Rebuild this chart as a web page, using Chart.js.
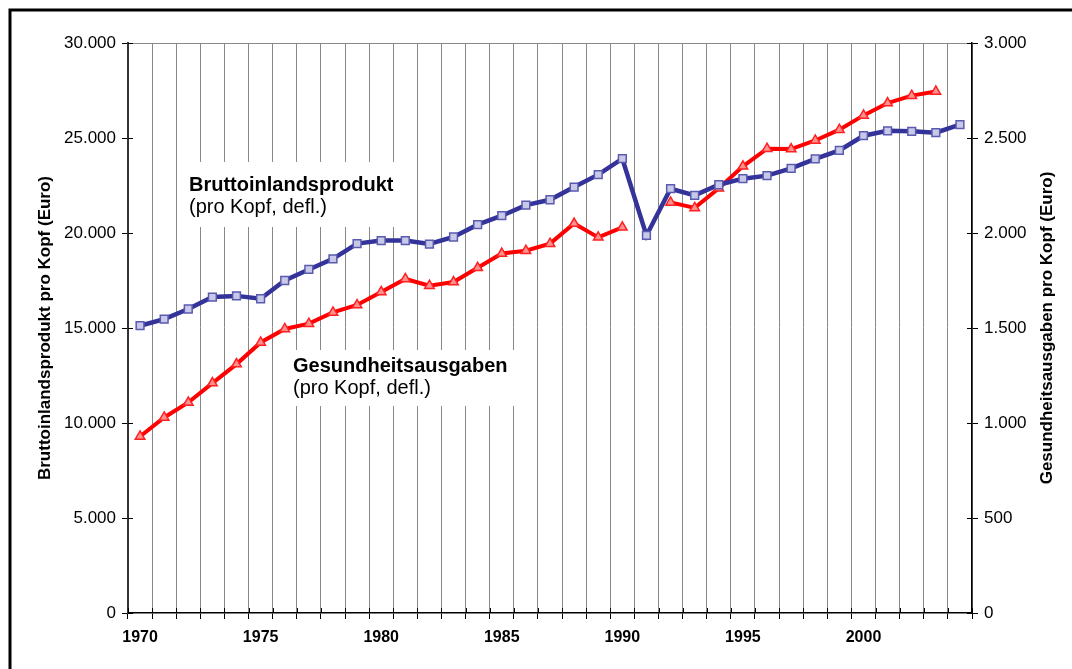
<!DOCTYPE html>
<html>
  <head>
    <title>BIP und Gesundheitsausgaben</title>
    <script src="https://cdn.jsdelivr.net/npm/chart.js"></script>
    <style>
      body { margin: 0; background: #fff; }
      #wrap { width: 1072px; height: 669px; position: relative; }
    </style>
  </head>
  <body>
    <div id="wrap"><canvas id="chart"></canvas></div>

    <script>
      // Jahre 1970-2004
      const years = [
        1970, 1971, 1972, 1973, 1974, 1975, 1976, 1977, 1978, 1979,
        1980, 1981, 1982, 1983, 1984, 1985, 1986, 1987, 1988, 1989,
        1990, 1991, 1992, 1993, 1994, 1995, 1996, 1997, 1998, 1999,
        2000, 2001, 2002, 2003, 2004
      ]

      // Bruttoinlandsprodukt pro Kopf, deflationiert (linke Achse)
      const bip = [
        15120, 15470, 16000, 16630, 16690, 16540, 17500, 18080, 18640, 19440,
        19600, 19600, 19420, 19790, 20440, 20910, 21470, 21750, 22420, 23070,
        23910, 19870, 22330, 21980, 22540, 22860, 23020, 23400, 23900, 24350,
        25120, 25380, 25350, 25280, 25700
      ]

      // Gesundheitsausgaben pro Kopf, deflationiert (rechte Achse)
      const gesundheit = [
        929, 1029, 1108, 1210, 1310, 1424, 1495, 1523, 1582, 1621,
        1690, 1758, 1723, 1742, 1817, 1892, 1907, 1944, 2050, 1977,
        2030, null, 2161, 2132, 2235, 2351, 2444, 2442, 2487, 2544,
        2619, 2684, 2723, 2745, null
      ]

      const leftTicks = [0, 5000, 10000, 15000, 20000, 25000, 30000]
      const rightTicks = [0, 500, 1000, 1500, 2000, 2500, 3000]
      const rightTitle = 'Gesundheitsausgaben pro Kopf (Euro)'

      const fontFamily = '"Liberation Sans", Arial, sans-serif'
      const gridGray = '#888888'

      const fmt = v => String(v).replace(/\B(?=(\d{3})+(?!\d))/g, '.')

      const notes = [
        { box: [186, 162, 214, 65], x: 189, title: 'Bruttoinlandsprodukt', y1: 191, sub: '(pro Kopf, defl.)', y2: 213 },
        { box: [287, 350, 229, 56], x: 293, title: 'Gesundheitsausgaben', y1: 372, sub: '(pro Kopf, defl.)', y2: 394 }
      ]

      const extras = {
        id: 'extras',
        beforeDatasetsDraw(chart) {
          const ctx = chart.ctx
          ctx.save()
          notes.forEach(n => {
            ctx.fillStyle = '#fff'
            ctx.fillRect(n.box[0], n.box[1], n.box[2], n.box[3])
            ctx.fillStyle = '#000'
            ctx.textAlign = 'left'
            ctx.textBaseline = 'alphabetic'
            ctx.font = 'bold 20px ' + fontFamily
            ctx.fillText(n.title, n.x, n.y1)
            ctx.font = '20px ' + fontFamily
            ctx.fillText(n.sub, n.x, n.y2)
          })
          ctx.restore()
        },
        afterDraw(chart) {
          const ctx = chart.ctx
          const { x, y, y1 } = chart.scales
          ctx.save()
          ctx.strokeStyle = '#000'
          ctx.lineWidth = 1
          // inward halves of the crossing tick marks
          ctx.beginPath()
          leftTicks.forEach(v => {
            const py = Math.round(y.getPixelForValue(v)) + 0.5
            ctx.moveTo(y.right, py)
            ctx.lineTo(y.right + 5, py)
          })
          rightTicks.forEach(v => {
            const py = Math.round(y1.getPixelForValue(v)) + 0.5
            ctx.moveTo(y1.left, py)
            ctx.lineTo(y1.left - 5, py)
          })
          for (let i = 0; i <= years.length; i++) {
            const px = Math.round(x.left + i * x.width / years.length) + 0.5
            ctx.moveTo(px, x.top)
            ctx.lineTo(px, x.top - 5)
          }
          ctx.stroke()
          // right axis title, reading bottom to top
          ctx.translate(1047, (y1.top + y1.bottom) / 2)
          ctx.rotate(-Math.PI / 2)
          ctx.fillStyle = '#000'
          ctx.font = 'bold 17px ' + fontFamily
          ctx.textAlign = 'center'
          ctx.textBaseline = 'middle'
          ctx.fillText(rightTitle, 0, 0)
          ctx.setTransform(1, 0, 0, 1, 0, 0)
          // outer frame (top and left)
          ctx.lineWidth = 3
          ctx.beginPath()
          ctx.moveTo(10, 669)
          ctx.lineTo(10, 10)
          ctx.lineTo(1072, 10)
          ctx.stroke()
          ctx.restore()
        }
      }

      new Chart(document.getElementById('chart'), {
        type: 'line',
        data: {
          labels: years,
          datasets: [
            {
              label: 'Bruttoinlandsprodukt',
              data: bip,
              yAxisID: 'y',
              borderColor: '#333399',
              borderWidth: 4.5,
              pointStyle: 'rect',
              pointRadius: 5.5,
              pointBorderWidth: 1.5,
              pointBorderColor: '#5a5ab0',
              pointBackgroundColor: '#c8c8e8',
              tension: 0
            },
            {
              label: 'Gesundheitsausgaben',
              data: gesundheit,
              yAxisID: 'y1',
              borderColor: '#ff0000',
              borderWidth: 4,
              pointStyle: 'triangle',
              pointRadius: 5.5,
              pointBorderWidth: 1.5,
              pointBorderColor: '#ff2020',
              pointBackgroundColor: '#ff9090',
              spanGaps: false,
              tension: 0
            }
          ]
        },
        options: {
          responsive: true,
          maintainAspectRatio: false,
          animation: false,
          layout: { padding: { top: 43, left: 0, right: 0, bottom: 0 } },
          plugins: {
            legend: { display: false },
            tooltip: { enabled: false }
          },
          scales: {
            x: {
              type: 'category',
              offset: true,
              afterFit: s => { s.height = 56 },
              grid: {
                offset: true,
                color: gridGray,
                lineWidth: 1,
                tickColor: '#000',
                tickLength: 6
              },
              border: { color: '#000', width: 1.5 },
              ticks: {
                autoSkip: false,
                maxRotation: 0,
                padding: 9,
                color: '#000',
                font: { family: fontFamily, size: 16, weight: 'bold' },
                callback: (val, i) => (years[i] % 5 === 0 ? String(years[i]) : '')
              }
            },
            y: {
              position: 'left',
              min: 0,
              max: 30000,
              afterFit: s => { s.width = 128 },
              afterBuildTicks: s => { s.ticks = leftTicks.map(v => ({ value: v })) },
              grid: {
                color: ctx => (ctx.tick && ctx.tick.value === 30000 ? gridGray : 'rgba(0,0,0,0)'),
                tickColor: '#000',
                tickLength: 6
              },
              border: { color: '#333', width: 2 },
              ticks: {
                padding: 6,
                color: '#000',
                font: { family: fontFamily, size: 17 },
                callback: v => fmt(v)
              },
              title: {
                display: true,
                text: 'Bruttoinlandsprodukt pro Kopf (Euro)',
                color: '#000',
                font: { family: fontFamily, size: 17, weight: 'bold' },
                padding: { top: 35, bottom: 0 }
              }
            },
            y1: {
              position: 'right',
              min: 0,
              max: 3000,
              afterFit: s => { s.width = 100 },
              afterBuildTicks: s => { s.ticks = rightTicks.map(v => ({ value: v })) },
              grid: {
                drawOnChartArea: false,
                tickColor: '#000',
                tickLength: 6
              },
              border: { color: '#000', width: 1.5 },
              ticks: {
                padding: 6,
                color: '#000',
                font: { family: fontFamily, size: 17 },
                callback: v => fmt(v)
              }
            }
          }
        },
        plugins: [extras]
      })
    </script>
  </body>
</html>
